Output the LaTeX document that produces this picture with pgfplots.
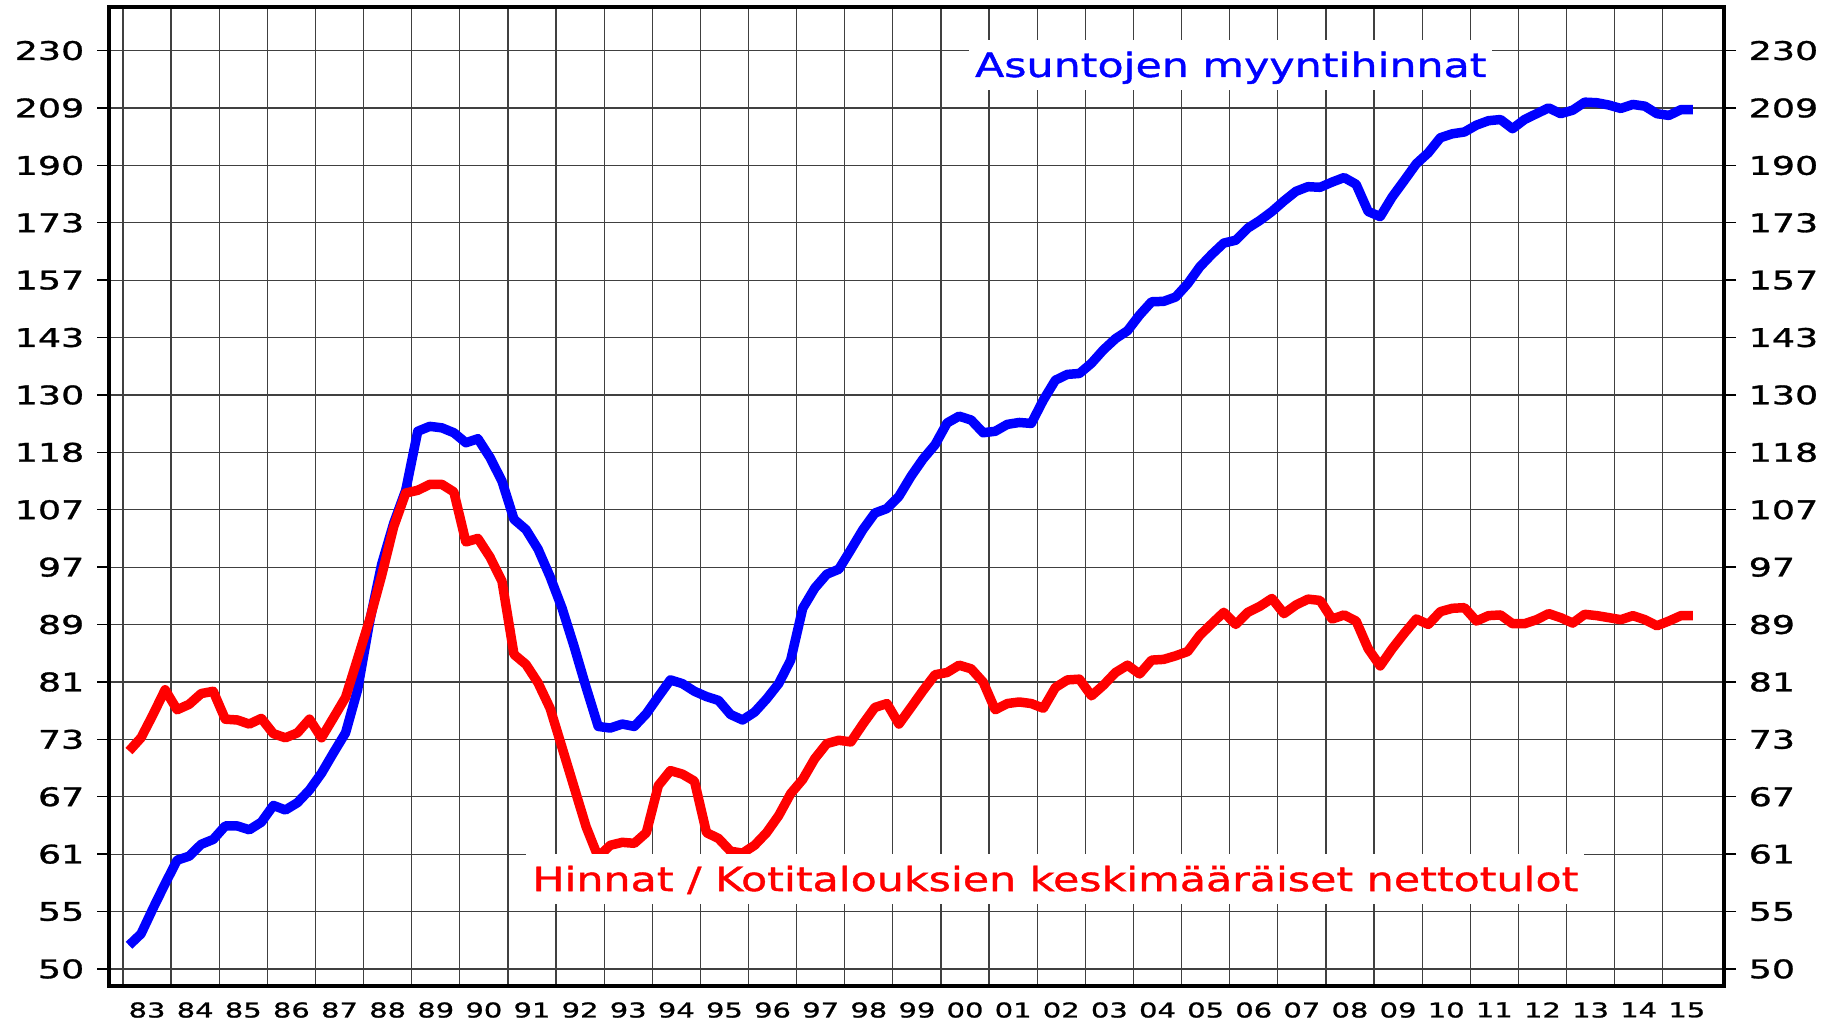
\documentclass[border=0pt]{standalone}
\usepackage{pgfplots}
\pgfplotsset{compat=1.18}
\usepackage{pgfplotstable}
\usepackage{fontspec}
\setmainfont{DejaVu Sans}
\newfontfamily\tickfont[FakeStretch=1.42,FakeBold=1.2]{DejaVu Sans}
\newfontfamily\titlefont[FakeStretch=1.28,FakeBold=1.2]{DejaVu Sans}

\pgfplotstableread{
x blue red
1983.125 52.0 71.8
1983.375 53.0 73.4
1983.625 55.3 76.3
1983.875 57.6 79.5
1984.125 59.9 76.9
1984.375 60.3 77.6
1984.625 61.5 79.0
1984.875 62.0 79.3
1985.125 63.4 75.7
1985.375 63.4 75.6
1985.625 63.0 75.1
1985.875 63.8 75.8
1986.125 65.6 73.9
1986.375 65.1 73.4
1986.625 65.9 74.0
1986.875 67.3 75.7
1987.125 69.2 73.4
1987.375 71.6 75.9
1987.625 74.0 78.5
1987.875 79.5 83.7
1988.125 89.0 89.3
1988.375 97.9 96.1
1988.625 104.8 104.2
1988.875 110.7 110.2
1989.125 122.1 110.7
1989.375 123.1 111.8
1989.625 122.8 111.8
1989.875 121.8 110.4
1990.125 119.8 101.6
1990.375 120.6 102.2
1990.625 116.9 99.1
1990.875 112.4 95.2
1991.125 105.5 84.3
1991.375 103.7 82.9
1991.625 100.4 80.4
1991.875 95.9 77.1
1992.125 91.0 72.2
1992.375 85.4 67.6
1992.625 79.8 63.3
1992.875 74.8 60.2
1993.125 74.6 61.4
1993.375 75.1 61.7
1993.625 74.8 61.6
1993.875 76.4 62.7
1994.125 78.6 67.8
1994.375 80.8 69.5
1994.625 80.3 69.1
1994.875 79.3 68.3
1995.125 78.6 62.7
1995.375 78.1 62.1
1995.625 76.3 60.8
1995.875 75.6 60.6
1996.125 76.6 61.4
1996.375 78.3 62.7
1996.625 80.3 64.5
1996.875 83.5 66.9
1997.125 91.0 68.5
1997.375 94.1 70.9
1997.625 96.3 72.7
1997.875 97.1 73.1
1998.125 100.3 72.9
1998.375 103.7 75.1
1998.625 106.6 77.2
1998.875 107.4 77.7
1999.125 109.6 75.1
1999.375 113.3 77.2
1999.625 116.6 79.4
1999.875 119.4 81.5
2000.125 123.8 81.8
2000.375 125.2 82.8
2000.625 124.4 82.3
2000.875 121.8 80.5
2001.125 122.1 76.9
2001.375 123.5 77.7
2001.625 123.9 77.9
2001.875 123.7 77.7
2002.125 128.6 77.1
2002.375 132.9 79.8
2002.625 134.2 80.8
2002.875 134.4 80.9
2003.125 136.7 78.7
2003.375 139.8 80.1
2003.625 142.4 81.8
2003.875 144.3 82.8
2004.125 148.1 81.6
2004.375 151.4 83.5
2004.625 151.5 83.6
2004.875 152.6 84.1
2005.125 156.0 84.7
2005.375 160.4 87.0
2005.625 163.8 88.7
2005.875 166.9 90.4
2006.125 167.7 88.6
2006.375 171.1 90.4
2006.625 173.3 91.3
2006.875 175.9 92.5
2007.125 179.0 90.2
2007.375 181.9 91.5
2007.625 183.3 92.4
2007.875 183.1 92.2
2008.125 184.7 89.4
2008.375 186.1 90.0
2008.625 184.0 89.1
2008.875 175.9 85.1
2009.125 174.4 82.7
2009.375 180.2 85.1
2009.625 185.2 87.3
2009.875 190.4 89.4
2010.125 193.9 88.6
2010.375 198.8 90.5
2010.625 200.1 91.0
2010.875 200.7 91.1
2011.125 203.0 89.1
2011.375 204.5 89.9
2011.625 204.9 90.0
2011.875 201.8 88.7
2012.125 204.9 88.7
2012.375 206.9 89.3
2012.625 208.9 90.2
2012.875 206.9 89.6
2013.125 208.1 88.8
2013.375 210.9 90.1
2013.625 210.7 89.9
2013.875 209.9 89.6
2014.125 208.7 89.3
2014.375 210.1 89.9
2014.625 209.5 89.3
2014.875 206.9 88.4
2015.125 206.3 89.1
2015.375 208.3 89.9
2015.625 208.3 89.9
}\data

\def\myyticks{50,55,60.5,66.55,73.205,80.5255,88.578,97.4359,107.1794,117.8974,129.6871,142.6558,156.9214,172.6136,189.8749,208.8624,229.7486}
\def\myylabels{50,55,61,67,73,81,89,97,107,118,130,143,157,173,190,209,230}

\begin{document}
\begin{tikzpicture}
\begin{axis}[name=main,
  scale only axis, width=16.15cm, height=9.784cm,
  xmin=1982.709, xmax=2016.27,
  ymode=log, ymin=48.63, ymax=246.9,
  axis line style={line width=1.1pt},
  tick align=outside,
  major tick length=0.12cm, minor tick length=0.09cm,
  xtick={1983.5,1984.5,...,2015.5},
  xticklabels={83,84,85,86,87,88,89,90,91,92,93,94,95,96,97,98,99,00,01,02,03,04,05,06,07,08,09,10,11,12,13,14,15},
  xtick style={draw=none},
  minor xtick={1983,1984,...,2015},
  xminorgrids=true, xmajorgrids=false,
  xtick pos=lower,
  ytick/.expand once=\myyticks,
  yticklabels/.expand once=\myylabels,
  ytick pos=both, yticklabel pos=left,
  ymajorgrids=true, yminorticks=false,
  major grid style={black!75, line width=0.35pt},
  minor grid style={black!75, line width=0.35pt},
  minor tick style={black, line width=0.4pt},
  ytick style={black, line width=0.4pt},
  xticklabel style={font=\tickfont\fontsize{5.8}{6.5}\selectfont, inner ysep=0.04cm},
  yticklabel style={font=\tickfont\fontsize{7.3}{8}\selectfont, inner xsep=0.12cm, inner ysep=0pt},
]
\addplot[blue, line width=2.7pt, line join=round] table[x=x,y=blue]{\data};
\addplot[red, line width=2.7pt, line join=round] table[x=x,y=red]{\data};
\node[anchor=base, fill=white, text=blue, inner xsep=0.06cm, inner ysep=0pt,
  text height=0.37cm, text depth=0.13cm,
  font=\titlefont\fontsize{9.5}{11}\selectfont] at (axis cs:2006.02,219.9) {Asuntojen myyntihinnat};
\node[anchor=base, fill=white, text=red, inner xsep=0.06cm, inner ysep=0pt,
  text height=0.37cm, text depth=0.13cm,
  font=\titlefont\fontsize{9.5}{11}\selectfont] at (axis cs:2002.375,56.9) {Hinnat / Kotitalouksien keskimääräiset nettotulot};
\end{axis}
\begin{axis}[
  scale only axis, width=16.15cm, height=9.784cm,
  xmin=1982.709, xmax=2016.27,
  ymode=log, ymin=48.63, ymax=246.9,
  hide x axis,
  axis line style={draw=none},
  tick align=outside,
  major tick length=0.12cm,
  ytick/.expand once=\myyticks,
  yticklabels/.expand once=\myylabels,
  ytick pos=right, yticklabel pos=right,
  ytick style={draw=none}, yminorticks=false,
  yticklabel style={font=\tickfont\fontsize{7.3}{8}\selectfont, inner xsep=0.12cm, inner ysep=0pt},
]
\end{axis}
\path ([xshift=-1.09cm,yshift=-0.373cm]main.south west) rectangle ([xshift=1.12cm,yshift=0.073cm]main.north east);
\end{tikzpicture}
\end{document}
